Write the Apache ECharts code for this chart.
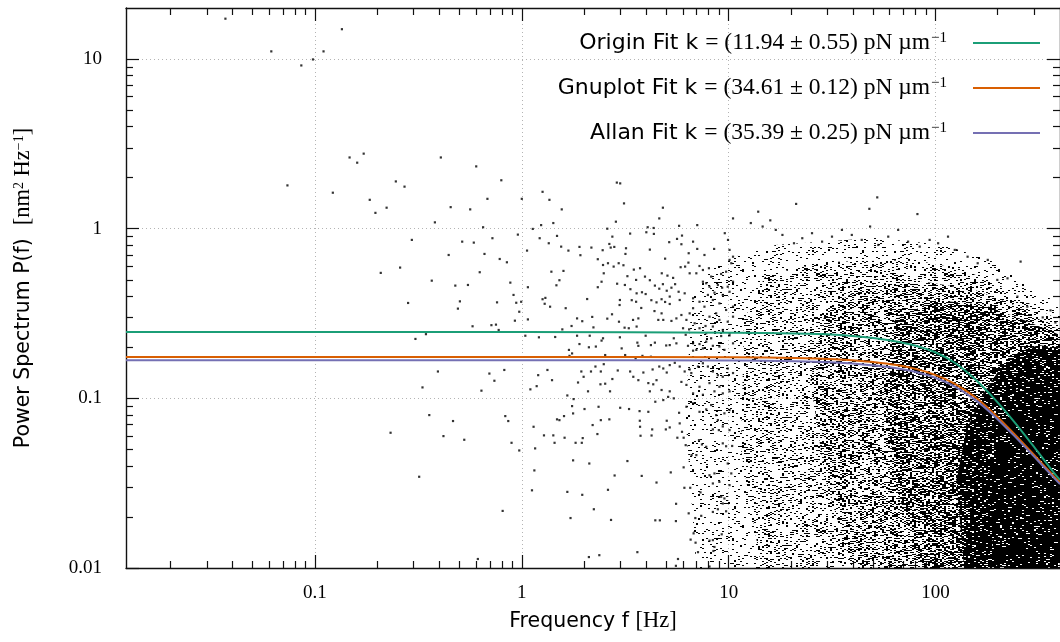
<!DOCTYPE html>
<html><head><meta charset="utf-8">
<script src="https://cdn.jsdelivr.net/npm/echarts@6/dist/echarts.min.js"></script>
<style>html,body{margin:0;padding:0;background:#fff}#chart{width:1060px;height:642px}</style>
</head><body><div id="chart"></div>
<script>
// ---- axis ranges and ticks ----
const xRange = [0.0122, 400];
const yRange = [0.01, 20];
const xTickValues = [0.1, 1, 10, 100];
const xTickLabels = ['0.1', '1', '10', '100'];
const yTickValues = [0.01, 0.1, 1, 10];
const yTickLabels = ['0.01', '0.1', '1', '10'];
const xMinorTicks = [0.02,0.03,0.04,0.05,0.06,0.07,0.08,0.09,0.2,0.3,0.4,0.5,0.6,0.7,0.8,0.9,2,3,4,5,6,7,8,9,20,30,40,50,60,70,80,90,200,300];
const yMinorTicks = [0.02,0.03,0.04,0.05,0.06,0.07,0.08,0.09,0.2,0.3,0.4,0.5,0.6,0.7,0.8,0.9,2,3,4,5,6,7,8,9];

// ---- fits ----
const fitNames = ['Origin Fit', 'Gnuplot Fit', 'Allan Fit'];
const fitK = ['11.94', '34.61', '35.39'];
const fitErr = ['0.55', '0.12', '0.25'];
const fitColors = ['#1b9e77', '#d95f02', '#7570b3'];
const fitFreq    = [0.0122, 1, 10.85, 21.07, 32.77, 40.89, 51.02, 63.64, 79.39, 99.04, 123.5, 154.1, 192.2, 239.8, 299.1, 373.1, 400];
const fitOrigin  = [0.2461, 0.2461, 0.2438, 0.2408, 0.2369, 0.2325, 0.2262, 0.2172, 0.2048, 0.1876, 0.1627, 0.1309, 0.0997, 0.0730, 0.0519, 0.0365, 0.0330];
const fitGnuplot = [0.1752, 0.1752, 0.1745, 0.1729, 0.1701, 0.1671, 0.1631, 0.1576, 0.1497, 0.1381, 0.1223, 0.1025, 0.0813, 0.0620, 0.0466, 0.0348, 0.0319];
const fitAllan   = [0.1676, 0.1676, 0.1671, 0.1655, 0.1628, 0.1600, 0.1561, 0.1509, 0.1435, 0.1327, 0.1177, 0.0989, 0.0788, 0.0603, 0.0455, 0.0341, 0.0312];

// ---- measured spectrum: individual points [f (Hz), P (nm^2/Hz)] ----
const dotsLow = [[0.0369,17.3],[0.0615,11.1],[0.0859,9.17],[0.0978,9.95],[0.110,11.1],[0.135,15.0],[0.0736,1.80],[0.122,1.63],[0.147,2.63],[0.160,2.45],[0.172,2.77],[0.406,2.63],[0.246,1.90],[0.271,1.77],[0.184,1.48],[0.222,1.33],[0.196,1.24],[0.380,1.09],[0.294,0.859],[0.258,0.590],[0.208,0.549],[0.367,0.494],[0.282,0.365],[0.344,0.239],[0.306,0.224],[0.393,0.144],[0.331,0.116],[0.357,0.0797],[0.232,0.0627],[0.418,0.0599],[0.319,0.0345],
[0.602,2.33],[0.796,1.93],[0.682,1.50],[0.453,1.34],[0.563,1.30],[0.650,1.02],[0.957,0.923],[0.721,0.879],[0.515,0.839],[0.586,0.828],[0.443,0.700],[0.660,0.710],[0.782,0.663],[0.847,0.634],[0.626,0.554],[0.477,0.462],[0.549,0.466],[0.880,0.481],[0.502,0.373],[0.491,0.338],[0.759,0.368],[0.912,0.407],[0.940,0.366],[0.993,0.371],[0.972,0.324],[0.926,0.287],[0.713,0.270],[0.750,0.272],[0.578,0.266],[0.773,0.253],
[0.697,0.140],[0.737,0.127],[0.823,0.147],[0.638,0.111],[0.465,0.0735],[0.527,0.0570],[0.832,0.0786],[0.860,0.0735],[0.892,0.0547],[0.972,0.0493],[0.808,0.0217],[0.613,0.0113]];

const dotsMid = [[1.00,1.50],[1.26,1.65],[1.36,1.48],[1.56,1.30],[2.88,1.87],[2.99,1.85],[3.12,1.41],[4.81,1.33],[4.62,1.15],[2.85,1.10],[10.5,1.15],[1.13,0.997],[1.24,1.05],[1.42,1.08],[2.59,1.00],[4.06,1.02],[4.34,1.01],[5.76,1.04],[7.05,1.05],[1.48,0.907],[1.22,0.879],[1.35,0.821],[2.74,0.898],[2.65,0.813],[3.34,0.936],[4.00,0.953],[4.35,0.932],[1.06,0.743],[1.55,0.784],[1.68,0.743],[1.90,0.781],[1.92,0.698],[2.17,0.774],[2.69,0.774],[2.80,0.781],[3.19,0.767],[3.17,0.710],[2.46,0.747],[2.33,0.661],[4.16,0.753],[5.16,0.833],[5.63,0.871],[5.95,0.911],[5.91,0.810],[6.73,0.839],[7.05,0.760],[6.41,0.717],[7.64,0.700],[4.93,0.666],[8.51,0.760],[9.58,0.941],[9.93,0.859],
[1.07,0.452],[1.07,0.292],[1.39,0.558],[1.59,0.564],[1.52,0.497],[1.47,0.464],[1.30,0.391],[1.26,0.384],[1.29,0.361],[1.37,0.347],[1.63,0.340],[1.85,0.296],[1.96,0.285],[2.07,0.385],[2.19,0.302],[2.22,0.262],[1.57,0.255],[1.74,0.267],[2.47,0.611],[2.61,0.626],[2.43,0.487],[2.94,0.626],[2.78,0.598],[3.10,0.609],[2.33,0.452],[2.49,0.546],[2.89,0.474],[3.15,0.466],[3.35,0.440],[2.98,0.380],[2.97,0.355],[3.48,0.574],[3.73,0.585],[3.94,0.522],[3.24,0.525],[3.57,0.499],[3.59,0.416],[3.81,0.422],[3.97,0.412],[3.40,0.379],[3.57,0.371],[3.78,0.341],[2.59,0.295],[2.73,0.313],[2.95,0.283],[3.14,0.261],[3.29,0.259],[3.45,0.290],[3.59,0.265],[3.66,0.296],
[4.16,0.497],[4.40,0.462],[4.62,0.443],[4.81,0.471],[5.02,0.431],[5.29,0.449],[5.51,0.471],[5.73,0.425],[4.75,0.546],[5.06,0.529],[5.39,0.513],[5.86,0.593],[6.16,0.598],[6.39,0.631],[4.23,0.379],[4.48,0.368],[4.74,0.384],[4.93,0.370],[5.19,0.360],[4.38,0.327],[4.74,0.317],[4.83,0.290],[4.57,0.290],[5.29,0.286],[5.59,0.296],[5.91,0.310],[6.25,0.290],[6.48,0.317],[6.02,0.259],[6.44,0.255],[6.85,0.277],[7.23,0.259],[7.73,0.267],[5.19,0.398],[5.80,0.380],[6.13,0.416],[6.73,0.389],[7.23,0.371],[7.64,0.347],[6.73,0.340],[7.23,0.603],[7.51,0.571],[8.03,0.585],[6.98,0.546],[8.23,0.522],[9.20,0.541],[9.72,0.558],[10.3,0.626],[7.51,0.487],[7.79,0.477],[8.08,0.455],[8.87,0.466],[9.30,0.449],[9.90,0.455],[10.5,0.487],[10.1,0.425],[9.37,0.407],[8.54,0.420],[7.94,0.407],[8.39,0.380],[9.02,0.363],[9.72,0.332],[10.5,0.347],[8.70,0.317],[8.08,0.303],[9.02,0.290],[9.90,0.283],[10.5,0.303],[9.37,0.253],[8.39,0.265],[7.79,0.242],[10.1,0.242],[6.48,0.546],[10.1,0.750],[10.1,0.655],[10.5,0.684],
[1.04,0.234],[1.21,0.229],[1.45,0.230],[1.85,0.234],[2.13,0.234],[1.90,0.209],[2.11,0.200],[2.28,0.202],[2.47,0.226],[2.43,0.219],[2.98,0.229],[3.04,0.197],[1.69,0.193],[1.75,0.184],[1.70,0.178],[3.62,0.213],[3.66,0.204],[3.97,0.234],[4.21,0.206],[4.40,0.213],[4.99,0.205],[5.19,0.206],[5.43,0.226],[5.59,0.211],[6.20,0.237],[6.36,0.204],[6.73,0.191],[6.73,0.211],[7.23,0.209],[7.79,0.216],[8.39,0.204],[9.02,0.202],[9.54,0.193],[10.5,0.211],[10.1,0.235],[9.20,0.233],[8.23,0.226],[7.51,0.197],[6.98,0.193],[2.53,0.180],[3.16,0.180],[3.55,0.172],[3.83,0.178],[4.21,0.176],
[1.20,0.137],[1.18,0.118],[1.10,0.113],[1.33,0.147],[1.40,0.128],[1.66,0.104],[1.78,0.0990],[1.75,0.0900],[2.01,0.0865],[2.35,0.0892],[1.77,0.0815],[1.94,0.144],[1.99,0.134],[2.16,0.144],[2.27,0.154],[2.41,0.144],[2.49,0.159],[1.87,0.124],[2.09,0.110],[2.40,0.121],[2.53,0.122],[2.67,0.110],[2.74,0.130],[2.91,0.146],[3.34,0.144],[3.46,0.134],[3.66,0.128],[3.87,0.142],[4.09,0.123],[4.32,0.121],[4.48,0.128],[4.16,0.110],[4.29,0.148],[4.62,0.154],[4.83,0.150],[5.02,0.142],[5.19,0.157],[5.49,0.162],[5.80,0.154],[6.13,0.144],[6.48,0.148],[6.60,0.141],[7.11,0.154],[7.51,0.161],[7.94,0.154],[8.39,0.144],[8.87,0.137],[9.37,0.134],[9.90,0.150],[10.5,0.141],[4.74,0.112],[5.19,0.110],[5.91,0.125],[6.25,0.120],[6.73,0.107],[7.23,0.117],[7.51,0.105],[8.08,0.123],[8.54,0.110],[9.02,0.117],[9.37,0.107],[10.1,0.110],
[2.99,0.0880],[3.30,0.0865],[3.71,0.0841],[4.09,0.0833],[3.72,0.0738],[3.73,0.0680],[3.75,0.0602],[4.27,0.0656],[4.24,0.0604],[5.02,0.0738],[4.97,0.0656],[5.19,0.0674],[5.80,0.0712],[5.95,0.0635],[5.65,0.0586],[6.06,0.0586],[6.20,0.0530],[6.62,0.0463],[6.98,0.0463],[4.42,0.0955],[4.83,0.0977],[5.10,0.102],[5.43,0.100],[5.76,0.0822],[6.25,0.0892],[6.73,0.0934],[7.23,0.0833],[7.79,0.0861],[8.23,0.0913],[8.70,0.0797],[9.54,0.0816],[10.1,0.0853],[7.19,0.0567],[7.43,0.0535],[7.79,0.0518],[8.97,0.0650],[9.37,0.0543],[9.72,0.0522],[10.4,0.0524],[8.39,0.0656],[8.87,0.0745],[9.37,0.0683],[10.1,0.0650],
[1.77,0.0431],[2.12,0.0413],[2.81,0.0351],[3.24,0.0427],[3.80,0.0349],[4.48,0.0319],[5.25,0.0366],[6.06,0.0392],[6.11,0.0297],[6.52,0.0297],[7.31,0.0279],[1.12,0.0287],[1.15,0.0376],[1.14,0.0680],[1.16,0.0507],[1.28,0.0605],[1.42,0.0605],[1.44,0.0547],[1.61,0.0586],[1.82,0.0547],[1.97,0.0583],[1.95,0.0547],[1.48,0.0752],[1.60,0.0786],[1.52,0.0744],[2.20,0.0696],[2.41,0.0744],[2.65,0.0752],[2.32,0.0616],[1.66,0.0281],[1.96,0.0270],[2.61,0.0289],[2.23,0.0222],[1.72,0.0197],[2.70,0.0192],[4.42,0.0191],[4.65,0.0191],[5.57,0.0239],[5.56,0.0189],[6.41,0.0210],[6.90,0.0197],[7.37,0.0203],[8.39,0.0214],[8.87,0.0222],[9.37,0.0240],[9.72,0.0216],[9.20,0.0263],[8.39,0.0315],[9.02,0.0322],[8.54,0.0361],[8.08,0.0352],[9.90,0.0413],[10.3,0.0361],[9.54,0.0257],[10.1,0.0308],[6.77,0.0160],[6.55,0.0147],[6.92,0.0141],[8.08,0.0145],[8.39,0.0146],[8.54,0.0133],[8.44,0.0126],[9.26,0.0158],[7.11,0.0124],[3.62,0.0124],[2.37,0.0119],[2.11,0.0116],[5.69,0.0113],[5.56,0.0103],[8.08,0.0102]];

const dotsHigh = [[12.8,1.08],[14.6,1.03],[16.9,0.984],[18.2,0.919],[20.7,0.821],[21.2,1.40],[13.9,1.26],[15.9,1.12],[22.7,0.879],[25.3,0.941],[28.3,0.839],[31.6,0.898],[35.3,0.984],[39.4,0.919],[44.0,0.859],[48.3,1.03],[52.3,1.53],[47.9,1.31],[52.9,0.802],[59.1,0.898],[66.0,0.984],[73.7,0.839],[81.8,1.22],[83.9,0.784],[93.7,0.859],[103,0.821],[115,0.898],[124,0.750],[143,0.684],[160,0.626],[179,0.655],[199,0.499],[223,0.510],[249,0.398],[258,0.640],[278,0.347],[330,0.30],[360,0.33],[380,0.28]];

// ---- dense part of the spectrum: density contours [f, P] and the point coverage inside each ----
const cloud1 = [[7.0,0.0095],[6.2,0.0745],[6.60,0.380],[8.70,0.637],[16.9,0.802],[51.0,0.882],[110.6,0.802],[192.2,0.637],[299.1,0.447],[400,0.355],[400,0.0095]];
const cloud2 = [[14.5,0.0095],[11.47,0.0495],[11.86,0.290],[15.12,0.534],[29.35,0.637],[79.4,0.655],[137.9,0.571],[226.8,0.436],[316.1,0.332],[400,0.290],[400,0.0095]];
const cloud3 = [[40.0,0.0095],[29.35,0.033],[24.86,0.128],[29.35,0.332],[45.65,0.466],[88.66,0.486],[154.1,0.436],[239.8,0.355],[334.1,0.282],[400,0.253],[400,0.0095]];
const cloud4 = [[85.0,0.0095],[63.64,0.033],[56.9,0.112],[63.64,0.290],[99.04,0.380],[172.1,0.355],[267.8,0.290],[400,0.236],[400,0.0095]];
const cloud5 = [[138.0,0.0095],[126.2,0.033],[141.0,0.065],[168.3,0.1046],[203.1,0.147],[253.4,0.1876],[316.1,0.206],[400,0.198],[400,0.0095]];
const cloud6 = [[192.2,0.0095],[181.8,0.0378],[203.1,0.0745],[253.4,0.1198],[400,0.147],[400,0.0095]];
const cloudCoverage = [0.08, 0.12, 0.2, 0.3, 0.7, 0.5];

// ---- build ----
const chart = echarts.init(document.getElementById('chart'), null, {renderer: 'canvas'});
const AX = '#111';
const serif = 'Liberation Serif';
const sans = 'DejaVu Sans';

function labelFor(values, labels) {
  return v => {
    for (let i = 0; i < values.length; i++) {
      if (Math.abs(Math.log10(values[i]) - Math.log10(v)) < 1e-6) return labels[i];
    }
    return '';
  };
}
function logAxis(range, pos, ticks, len, showLine) {
  return {
    type: 'log', logBase: 10, position: pos, min: range[0], max: range[1], gridIndex: 0,
    axisLine: {show: showLine, onZero: false, lineStyle: {color: AX, width: 1.4}},
    axisTick: {show: true, inside: true, length: len, customValues: ticks, lineStyle: {color: AX, width: 1.2}},
    axisLabel: {show: false},
    splitLine: {show: false},
    minorTick: {show: false}, minorSplitLine: {show: false},
    axisPointer: {show: false}
  };
}
const nameRich = {
  s: {fontFamily: sans, fontSize: 20.5, color: '#000'},
  m: {fontFamily: serif, fontSize: 22.5, color: '#000'},
  sup: {fontFamily: serif, fontSize: 14, color: '#000', verticalAlign: 'top'}
};

const xMain = logAxis(xRange, 'bottom', xTickValues, 13, true);
xMain.axisLabel = {show: true, customValues: xTickValues, formatter: labelFor(xTickValues, xTickLabels),
  margin: 16, color: '#000', fontFamily: serif, fontSize: 19};
xMain.splitLine = {show: true, lineStyle: {color: '#b4b4b4', width: 1, type: [1, 3]}};
xMain.name = '{s|Frequency f }{m|[Hz]}';
xMain.nameLocation = 'middle';
xMain.nameGap = 42;
xMain.nameTextStyle = {rich: nameRich};

const yMain = logAxis(yRange, 'left', yTickValues, 13, true);
yMain.axisLabel = {show: true, customValues: yTickValues, formatter: labelFor(yTickValues, yTickLabels),
  margin: 24, color: '#000', fontFamily: serif, fontSize: 19};
yMain.splitLine = {show: true, lineStyle: {color: '#b4b4b4', width: 1, type: [1, 3]}};
yMain.name = '{s|Power Spectrum P(f)  }{m|[nm}{sup|2}{m| Hz}{sup|−1}{m|]}';
yMain.nameLocation = 'middle';
yMain.nameRotate = 90;
yMain.nameGap = 91;
yMain.nameTextStyle = {rich: nameRich};

const xAxes = [xMain, logAxis(xRange, 'bottom', xMinorTicks, 7, false),
               logAxis(xRange, 'top', xTickValues, 13, true), logAxis(xRange, 'top', xMinorTicks, 7, false)];
const yAxes = [yMain, logAxis(yRange, 'left', yMinorTicks, 7, false),
               logAxis(yRange, 'right', yTickValues, 13, true), logAxis(yRange, 'right', yMinorTicks, 7, false)];

// speckled fill style (a fixed dither texture) for the dense parts of the point cloud
function fmix(h) {
  h ^= h >>> 16; h = Math.imul(h, 0x85ebca6b);
  h ^= h >>> 13; h = Math.imul(h, 0xc2b2ae35);
  h ^= h >>> 16; return h >>> 0;
}
function speckle(coverage, seed) {
  const size = 128, cw = 2, ch = 1, c = document.createElement('canvas');
  c.width = c.height = size;
  const g = c.getContext('2d');
  g.fillStyle = '#000';
  const limit = Math.round(coverage * 1000);
  for (let yi = 0; yi < size / ch; yi++) {
    for (let xi = 0; xi < size / cw; xi++) {
      const h = fmix(fmix(yi * 257 + xi + 1) ^ Math.imul(seed, 0x9e3779b1));
      if (h % 1000 < limit) g.fillRect(xi * cw, yi * ch, cw, ch);
    }
  }
  return c;
}
function cloudSeries(verts, coverage, seed) {
  const tex = speckle(coverage, seed);
  return {
    type: 'custom', xAxisIndex: 0, yAxisIndex: 0, clip: true, silent: true, z: 1,
    data: [verts[0]],
    renderItem: (params, api) => ({
      type: 'polygon',
      shape: {points: verts.map(v => api.coord(v))},
      style: {fill: {image: tex, repeat: 'repeat'}}
    })
  };
}
const clouds = [cloud1, cloud2, cloud3, cloud4, cloud5, cloud6];

const fitSeries = [fitOrigin, fitGnuplot, fitAllan].map((vals, i) => ({
  type: 'line', name: fitNames[i], xAxisIndex: 0, yAxisIndex: 0,
  data: fitFreq.map((f, j) => [f, vals[j]]),
  symbol: 'none', showSymbol: false, smooth: 0.25, clip: true,
  lineStyle: {color: fitColors[i], width: 2}, itemStyle: {color: fitColors[i]}, z: 5
}));

const legendRich = {
  s: {fontFamily: sans, fontSize: 22, color: '#000', lineHeight: 26},
  m: {fontFamily: serif, fontSize: 23.5, color: '#000', lineHeight: 26},
  sup: {fontFamily: serif, fontSize: 15, color: '#000', lineHeight: 15, verticalAlign: 'top', padding: [1, 0, 0, 1]},
  gap: {width: 21}
};
const legends = fitNames.map((n, i) => ({
  data: [n], right: 20, top: 30 + 45 * i, orient: 'vertical', align: 'right',
  icon: 'rect', itemWidth: 67, itemHeight: 2, padding: 0, itemGap: 0, selectedMode: false,
  formatter: name => '{s|' + name + ' k }{m|= (' + fitK[i] + ' ± ' + fitErr[i] + ') pN µm}{sup|−1}{gap|}',
  textStyle: {rich: legendRich}
}));

chart.setOption({
  animation: false,
  backgroundColor: '#fff',
  grid: {left: 126, right: -6, top: 8, bottom: 74, containLabel: false},
  xAxis: xAxes,
  yAxis: yAxes,
  legend: legends,
  series: [
    ...clouds.map((c, i) => cloudSeries(c, cloudCoverage[i], 11 + 17 * i)),
    {type: 'scatter', name: 'data', xAxisIndex: 0, yAxisIndex: 0, silent: true, z: 2,
     data: dotsLow.concat(dotsMid, dotsHigh), symbol: 'rect', symbolSize: 2.2, itemStyle: {color: '#000'}},
    ...fitSeries
  ]
});
</script></body></html>
